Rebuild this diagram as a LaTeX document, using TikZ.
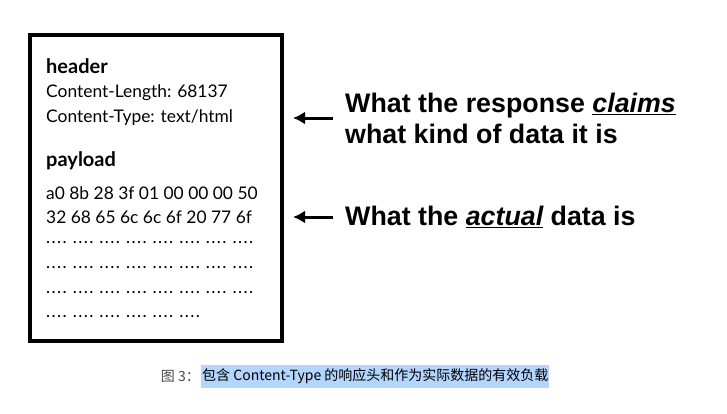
\documentclass[tikz,border=0pt]{standalone}
\usepackage{fontspec}
\setmainfont{Lato}
\newfontfamily\claimfont{Liberation Sans}
\newfontfamily\cjk{Noto Sans CJK SC}
\usetikzlibrary{arrows.meta,positioning,calc}
\definecolor{hilite}{HTML}{B4D5FC}
\definecolor{capgray}{HTML}{4A4A4A}
\newcommand{\dgrp}{.\kern1.4pt.\kern1.4pt.\kern1.4pt.\hspace{6pt}}
\tikzset{
    outerframe/.style={
        draw,
        line width=3.6pt
    },
    headtext/.style={
        anchor=west,
        inner sep=0pt,
        font=\fontsize{20}{24}\selectfont\bfseries
    },
    bodyline/.style={
        anchor=west,
        inner sep=0pt,
        font=\fontsize{17.4}{20}\selectfont
    },
    claimtext/.style={
        anchor=west,
        align=left,
        inner sep=0pt,
        font=\claimfont\fontsize{26.8}{31}\selectfont\bfseries
    },
    arrow/.style={
        -{Latex[length=12pt,width=13pt]},
        line width=3pt
    },
    captext/.style={
        inner sep=0pt,
        font=\cjk\fontsize{14}{16}\selectfont
    }
}

\begin{document}
\begin{tikzpicture}[x=1pt,y=-1pt]
\useasboundingbox (0,0) rectangle (727,413);

\draw[outerframe] (30,35) rectangle (282,341);
\coordinate (boxeast) at (282,188);

\node[headtext] (header) at (46,66) {header};
\node[bodyline] (clen) at (46,93) {Content-Length: 68137};
\node[bodyline] (ctype) at (46,118) {Content-Type: text/html};
\node[headtext] (payload) at (46,161) {payload};
\node[bodyline] (hexa) at (46,193) {a0 8b 28 3f 01 00 00 00 50};
\node[bodyline] (hexb) at (46,217) {32 68 65 6c 6c 6f 20 77 6f};
\node[bodyline] (dota) at (46,243) {\dgrp\dgrp\dgrp\dgrp\dgrp\dgrp\dgrp\dgrp};
\node[bodyline] (dotb) at (46,268) {\dgrp\dgrp\dgrp\dgrp\dgrp\dgrp\dgrp\dgrp};
\node[bodyline] (dotc) at (46,293) {\dgrp\dgrp\dgrp\dgrp\dgrp\dgrp\dgrp\dgrp};
\node[bodyline] (dotd) at (46,317) {\dgrp\dgrp\dgrp\dgrp\dgrp\dgrp};

\node[claimtext] (claims) at (345,118)
    {What the response \underline{\itshape claims}\\what kind of data it is};
\node[claimtext] (actual) at (345,217)
    {What the \underline{\itshape actual} data is};

\draw[arrow] ([xshift=-12pt]claims.west) -- ([xshift=11pt]boxeast |- claims.west);
\draw[arrow] ([xshift=-12pt]actual.west) -- ([xshift=11pt]boxeast |- actual.west);

\node[fill=hilite, captext, inner xsep=1pt, minimum height=23pt, anchor=west]
    (caption) at (201,376)
    {包含 Content-Type 的响应头和作为实际数据的有效负载};
\node[captext, text=capgray, anchor=east] (fig) at ([xshift=-1pt]caption.west)
    {图 3：};

\end{tikzpicture}
\end{document}
